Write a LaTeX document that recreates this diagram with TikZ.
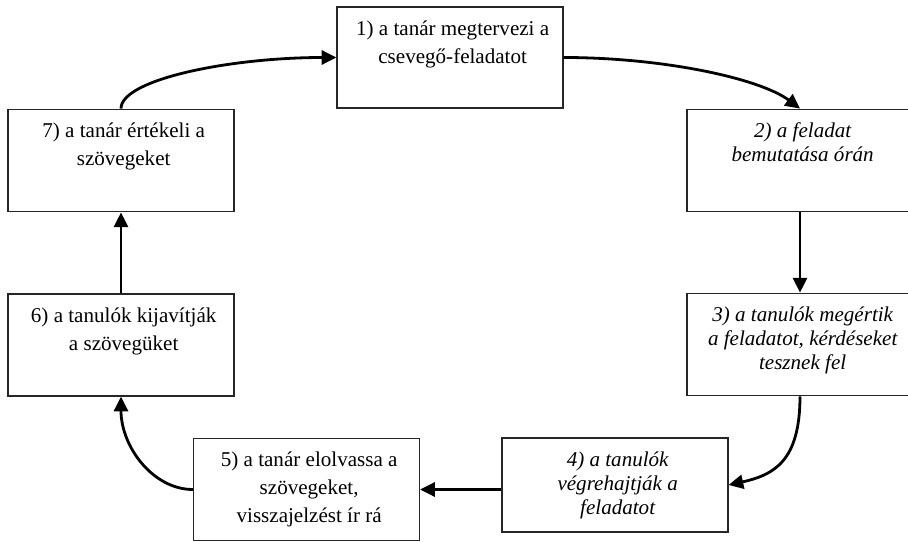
\documentclass[tikz,border=0pt]{standalone}
\usepackage{fontspec}
\setmainfont{Liberation Serif}
\usetikzlibrary{arrows.meta}

\begin{document}
\begin{tikzpicture}[x=0.75pt,y=-0.75pt,
    stage/.style={draw=black!85, line width=0.9pt, minimum width=169.5pt, minimum height=77pt, inner sep=0pt},
    flow/.style={line width=2.1pt, -{Triangle[length=11pt,width=10.5pt]}},
    txt/.style={anchor=north, align=center, inner sep=0pt, yshift=-10.5pt, xshift=2pt, font=\fontsize{15.8pt}{21pt}\selectfont},
    itxt/.style={txt, font=\fontsize{15.8pt}{18pt}\selectfont\itshape}]
        \path[use as bounding box] (0,0) rectangle (908,542);
        \clip (0,0) rectangle (908,542);
        % the seven stages
        \node[stage, minimum height=75.75pt, label={[txt]north:{1) a tanár megtervezi a\\csevegő-feladatot}}] (n1) at (450,57.5) {};
        \node[stage, label={[itxt]north:{2) a feladat\\bemutatása órán}}] (n2) at (800,160.5) {};
        \node[stage, label={[itxt]north:{3) a tanulók megértik\\a feladatot, kérdéseket\\tesznek fel}}] (n3) at (800,344.5) {};
        \node[stage, minimum height=70.5pt, label={[itxt]north:{4) a tanulók\\végrehajtják a\\feladatot}}] (n4) at (615,485) {};
        \node[stage, label={[txt]north:{5) a tanár elolvassa a\\szövegeket,\\visszajelzést ír rá}}] (n5) at (306.5,489.5) {};
        \node[stage, minimum height=76.5pt, label={[txt]north:{6) a tanulók kijavítják\\a szövegüket}}] (n6) at (121,345) {};
        \node[stage, label={[txt]north:{7) a tanár értékeli a\\szövegeket}}] (n7) at (121,160.5) {};
        % the cycle
        \draw[flow] (n1.east) .. controls +(100,0) and +(-40,-30) .. (n2.north);
        \draw[flow] (n2) -- (n3);
        \draw[flow] (n3.south) .. controls +(0,65) and +(45,-10) .. (n4.east);
        \draw[flow] (n4.west |- n5) -- (n5.east);
        \draw[flow] (n5.west) .. controls +(-40,0) and +(0,50) .. (n6.south);
        \draw[flow] (n6) -- (n7);
        \draw[flow] (n7.north) .. controls +(0,-29) and +(-107,0) .. (n1.west);
    \end{tikzpicture}
\end{document}
